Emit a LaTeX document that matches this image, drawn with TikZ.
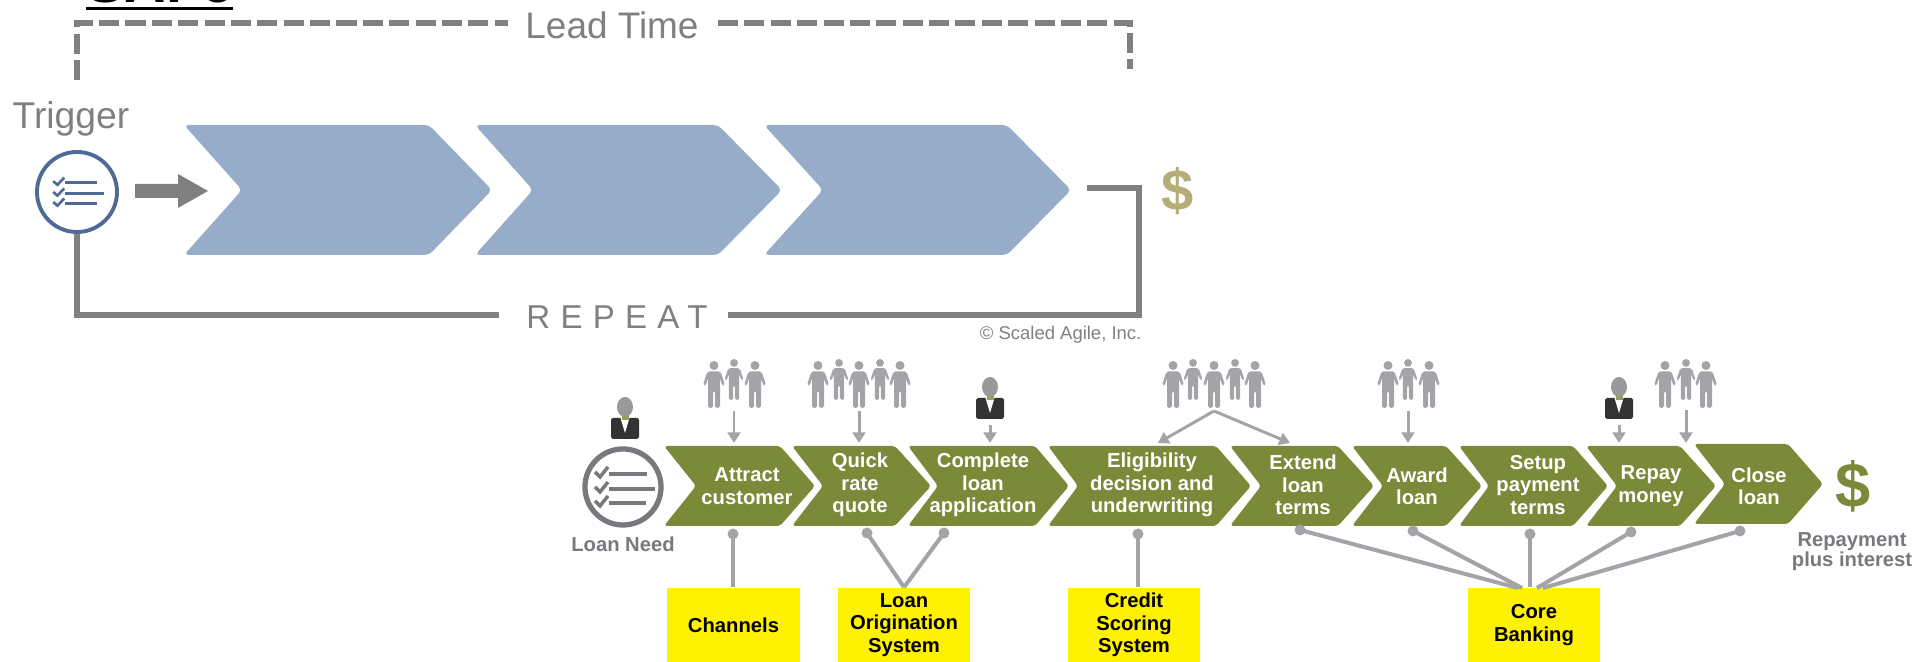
\documentclass[tikz,border=0pt]{standalone}
\usepackage{fontspec}
\setmainfont{Liberation Sans}
\usetikzlibrary{arrows.meta}

\definecolor{loopgray}{HTML}{808080}
\definecolor{stepblue}{HTML}{97ACC9}
\definecolor{ringblue}{HTML}{4F6A94}
\definecolor{stepolive}{HTML}{7A8A38}
\definecolor{peoplegray}{HTML}{A2A4A7}
\definecolor{ringgray}{HTML}{77797C}
\definecolor{systemyellow}{HTML}{FFF200}
\definecolor{dollartan}{HTML}{B5AD78}

\tikzset{
	bigstep/.style={fill=stepblue, rounded corners=1.3pt},
	loanstep/.style={fill=stepolive, rounded corners=0.9pt},
	steplabel/.style={text=white, align=center, inner sep=0pt, font=\bfseries\fontsize{5.75}{6.35}\selectfont},
	graylabel/.style={text=ringgray, align=center, inner sep=0pt, font=\bfseries\fontsize{5.75}{5.7}\selectfont},
	toplabel/.style={text=loopgray, inner sep=0pt, font=\fontsize{10.5}{12}\selectfont},
	sysbox/.style={fill=systemyellow, minimum width=1.32cm, minimum height=0.74cm, align=center, inner sep=0pt, font=\bfseries\fontsize{5.75}{6.35}\selectfont},
	dot/.style={circle, fill=peoplegray, minimum size=0.11cm, inner sep=0pt},
	link/.style={draw=peoplegray, line width=1.15pt},
	feed/.style={draw=peoplegray, line width=0.85pt, -{Triangle[length=3pt,width=3.6pt]}},
	person/.pic={
		\fill[peoplegray] (0,4.5) circle (4.5);
		\fill[peoplegray, rounded corners=0.5pt] (-6.5,10.5) -- (6.5,10.5) -- (11,24) -- (8.5,25) -- (6,17) -- (6,47) -- (1,47) -- (1,30) -- (-1,30) -- (-1,47) -- (-6,47) -- (-6,17) -- (-8.5,25) -- (-11,24) -- cycle;
	},
	boss/.pic={
		\fill[black!40] (0,0) ellipse (8 and 10);
		\fill[black!80, rounded corners=0.5pt] (-14,11) rectangle (14,32);
		\fill[white] (-4.5,11) -- (4.5,11) -- (0,26) -- cycle;
		\fill[stepolive!80] (-3.5,9.5) rectangle (3.5,13);
	},
	checks/.pic={
		\draw (-14,-13) -- (24,-13);
		\draw (-14,2) -- (32,2);
		\draw (-14,16) -- (23,16);
		\draw (-28,-15) -- (-23,-10) -- (-15,-20);
		\draw (-28,0) -- (-23,5) -- (-15,-5);
		\draw (-28,14) -- (-23,19) -- (-15,9);
	}
}

\begin{document}
\begin{tikzpicture}[x=0.01cm, y=-0.01cm]
	\useasboundingbox (0,0) rectangle (1920,662);
	\clip (0,0) rectangle (1920,662);
	
	\node[anchor=base, inner sep=0pt, font=\bfseries\fontsize{16.3}{18}\selectfont] (title) at (160,3) {SAFe};
	\fill (86,7) rectangle (233,10.5);
	
	\node[toplabel] (lead) at (612,25) {Lead Time};
	\node[toplabel, font=\fontsize{10.6}{12}\selectfont] (trigger) at (71,119) {Trigger};
	\node[toplabel, font=\fontsize{9.4}{12}\selectfont\addfontfeature{LetterSpace=31}] (repeat) at (617,317) {REPEAT};
	\node[text=loopgray, inner sep=0pt, anchor=east, font=\fontsize{5.25}{6}\selectfont] (copy) at (1142,335) {© Scaled Agile, Inc.};
	\node[text=dollartan, inner sep=0pt, font=\bfseries\fontsize{16.5}{18}\selectfont] (tandollar) at (1178,191) {\$};
	
	\coordinate (leadleft) at (77,80);
	\coordinate (leadtop) at (77,23);
	\coordinate (leadgapl) at (508,23);
	\coordinate (leadgapr) at (718,23);
	\coordinate (leadright) at (1130,69);
	\coordinate (loopout) at (1087,188);
	\coordinate (loopturn) at (1139,315);
	\coordinate (repeatgapl) at (499,315);
	\coordinate (repeatgapr) at (728,315);
	
	\draw[loopgray, line width=1.7pt, dash pattern=on 5.7pt off 1.8pt] (leadleft) -- (leadtop) -- (leadgapl);
	\draw[loopgray, line width=1.7pt, dash pattern=on 5.7pt off 1.8pt] (leadgapr) -- (leadright |- leadtop) -- (leadright);
	
	\fill[bigstep] (184,125) -- (429,125) -- (492,190) -- (429,255) -- (184,255) -- (242,190) -- cycle;
	\fill[bigstep] (475,125) -- (718,125) -- (782,190) -- (718,255) -- (475,255) -- (533,190) -- cycle;
	\fill[bigstep] (764,125) -- (1007,125) -- (1071,190) -- (1007,255) -- (764,255) -- (823,190) -- cycle;
	
	\node[circle, draw=ringblue, line width=1.1pt, fill=white, minimum size=0.8cm, inner sep=0pt] (triggerring) at (77,192) {};
	\pic[ringblue, line width=0.75pt, xscale=0.85, yscale=0.72] at (77,192) {checks};
	
	\fill[loopgray] (135,184) -- (178,184) -- (178,174) -- (208,191) -- (178,208) -- (178,198) -- (135,198) -- cycle;
	
	\draw[loopgray, line width=1.7pt] (triggerring.south) |- (repeatgapl);
	\draw[loopgray, line width=1.7pt] (loopout) -| (loopturn) -- (repeatgapr);
	
	\fill[loanstep] (664,446) -- (780,446) -- (815,486) -- (780,526) -- (664,526) -- (696,486) -- cycle;
	\fill[loanstep] (792,446) -- (895,446) -- (931,486) -- (895,526) -- (792,526) -- (823,486) -- cycle;
	\fill[loanstep] (908,446) -- (1035,446) -- (1069,486) -- (1035,526) -- (908,526) -- (938,486) -- cycle;
	\fill[loanstep] (1048,446) -- (1216,446) -- (1251,486) -- (1216,526) -- (1048,526) -- (1078,486) -- cycle;
	\fill[loanstep] (1230,446) -- (1338,446) -- (1374,486) -- (1338,526) -- (1230,526) -- (1261,486) -- cycle;
	\fill[loanstep] (1352,446) -- (1446,446) -- (1482,486) -- (1446,526) -- (1352,526) -- (1383,486) -- cycle;
	\fill[loanstep] (1459,446) -- (1573,446) -- (1608,486) -- (1573,526) -- (1459,526) -- (1489,486) -- cycle;
	\fill[loanstep] (1586,446) -- (1680,446) -- (1716,486) -- (1680,526) -- (1586,526) -- (1617,486) -- cycle;
	\fill[loanstep] (1694,444) -- (1788,444) -- (1823,484) -- (1788,524) -- (1694,524) -- (1725,484) -- cycle;
	
	\node[steplabel] (attract) at (747,486) {Attract\\customer};
	\node[steplabel] (quick) at (860,485) {Quick\\rate\\quote};
	\node[steplabel] (complete) at (983,485) {Complete\\loan\\application};
	\node[steplabel] (eligibility) at (1152,485) {Eligibility\\decision and\\underwriting};
	\node[steplabel] (extend) at (1303,485) {Extend\\loan\\terms};
	\node[steplabel] (award) at (1417,486) {Award\\loan};
	\node[steplabel] (setup) at (1538,485) {Setup\\payment\\terms};
	\node[steplabel] (repay) at (1651,486) {Repay\\money};
	\node[steplabel] (close) at (1759,486) {Close\\loan};
	
	\node[circle, draw=ringgray, line width=1.5pt, minimum size=0.76cm, inner sep=0pt] (needring) at (623,487) {};
	\pic[ringgray, line width=1pt] at (623,487) {checks};
	\node[graylabel] (need) at (623,544) {Loan Need};
	
	\node[text=stepolive, inner sep=0pt, font=\bfseries\fontsize{18}{19}\selectfont] (olivedollar) at (1853,486) {\$};
	\node[graylabel] (repayment) at (1852,552) {Repayment\\plus interest};
	
	\pic at (625,407) {boss};
	\pic at (990,387) {boss};
	\pic at (1619,387) {boss};
	
	\pic[scale=0.87] at (734,359) {person};
	\pic at (714,361) {person};
	\pic at (755,361) {person};
	
	\pic[scale=0.87] at (839,359) {person};
	\pic[scale=0.87] at (880,359) {person};
	\pic at (818,361) {person};
	\pic at (859,361) {person};
	\pic at (900,361) {person};
	
	\pic[scale=0.87] at (1193,359) {person};
	\pic[scale=0.87] at (1235,359) {person};
	\pic at (1173,361) {person};
	\pic at (1214,361) {person};
	\pic at (1255,361) {person};
	
	\pic[scale=0.87] at (1408,359) {person};
	\pic at (1388,361) {person};
	\pic at (1429,361) {person};
	
	\pic[scale=0.87] at (1686,359) {person};
	\pic at (1665,361) {person};
	\pic at (1706,361) {person};
	
	\coordinate (crowdone) at (734,411);
	\coordinate (crowdtwo) at (859,411);
	\coordinate (crowdthree) at (1214,411);
	\coordinate (crowdfour) at (1408,411);
	\coordinate (crowdfive) at (1686,410);
	\coordinate (bossone) at (990,425);
	\coordinate (bosstwo) at (1619,425);
	
	\coordinate (intoattract) at (734,443);
	\coordinate (intoquick) at (859,443);
	\coordinate (intocomplete) at (990,443);
	\coordinate (intoeligibility) at (1158,443);
	\coordinate (intoextend) at (1290,443);
	\coordinate (intoaward) at (1408,443);
	\coordinate (intorepay) at (1619,443);
	\coordinate (intoclose) at (1686,443);
	
	\draw[feed] (crowdone) -- (intoattract);
	\draw[feed] (crowdtwo) -- (intoquick);
	\draw[feed] (bossone) -- (intocomplete);
	\draw[feed] (crowdthree) -- (intoeligibility);
	\draw[feed] (crowdthree) -- (intoextend);
	\draw[feed] (crowdfour) -- (intoaward);
	\draw[feed] (bosstwo) -- (intorepay);
	\draw[feed] (crowdfive) -- (intoclose);
	
	\node[sysbox] (channels) at (733.5,625) {Channels};
	\node[sysbox] (origination) at (904,625) {Loan\\Origination\\System};
	\node[sysbox] (scoring) at (1134,625) {Credit\\Scoring\\System};
	\node[sysbox] (banking) at (1534,625) {Core\\Banking};
	
	\node[dot] (dotattract) at (733,534) {};
	\node[dot] (dotquick) at (867,533) {};
	\node[dot] (dotcomplete) at (944,533) {};
	\node[dot] (doteligibility) at (1138,534) {};
	\node[dot] (dotextend) at (1300,530) {};
	\node[dot] (dotaward) at (1413,531) {};
	\node[dot] (dotsetup) at (1530,534) {};
	\node[dot] (dotrepay) at (1631,532) {};
	\node[dot] (dotclose) at (1740,531) {};
	
	\coordinate (coreextend) at (1518,588);
	\coordinate (coreaward) at (1522,588);
	\coordinate (corerepay) at (1537,588);
	\coordinate (coreclose) at (1543,588);
	
	\draw[link] (dotattract.center) -- (dotattract |- channels.north);
	\draw[link] (dotquick.center) -- (origination.north);
	\draw[link] (dotcomplete.center) -- (origination.north);
	\draw[link] (doteligibility.center) -- (doteligibility |- scoring.north);
	\draw[link] (dotextend.center) -- (coreextend);
	\draw[link] (dotaward.center) -- (coreaward);
	\draw[link] (dotsetup.center) -- (dotsetup |- banking.north);
	\draw[link] (dotrepay.center) -- (corerepay);
	\draw[link] (dotclose.center) -- (coreclose);
\end{tikzpicture}
\end{document}
